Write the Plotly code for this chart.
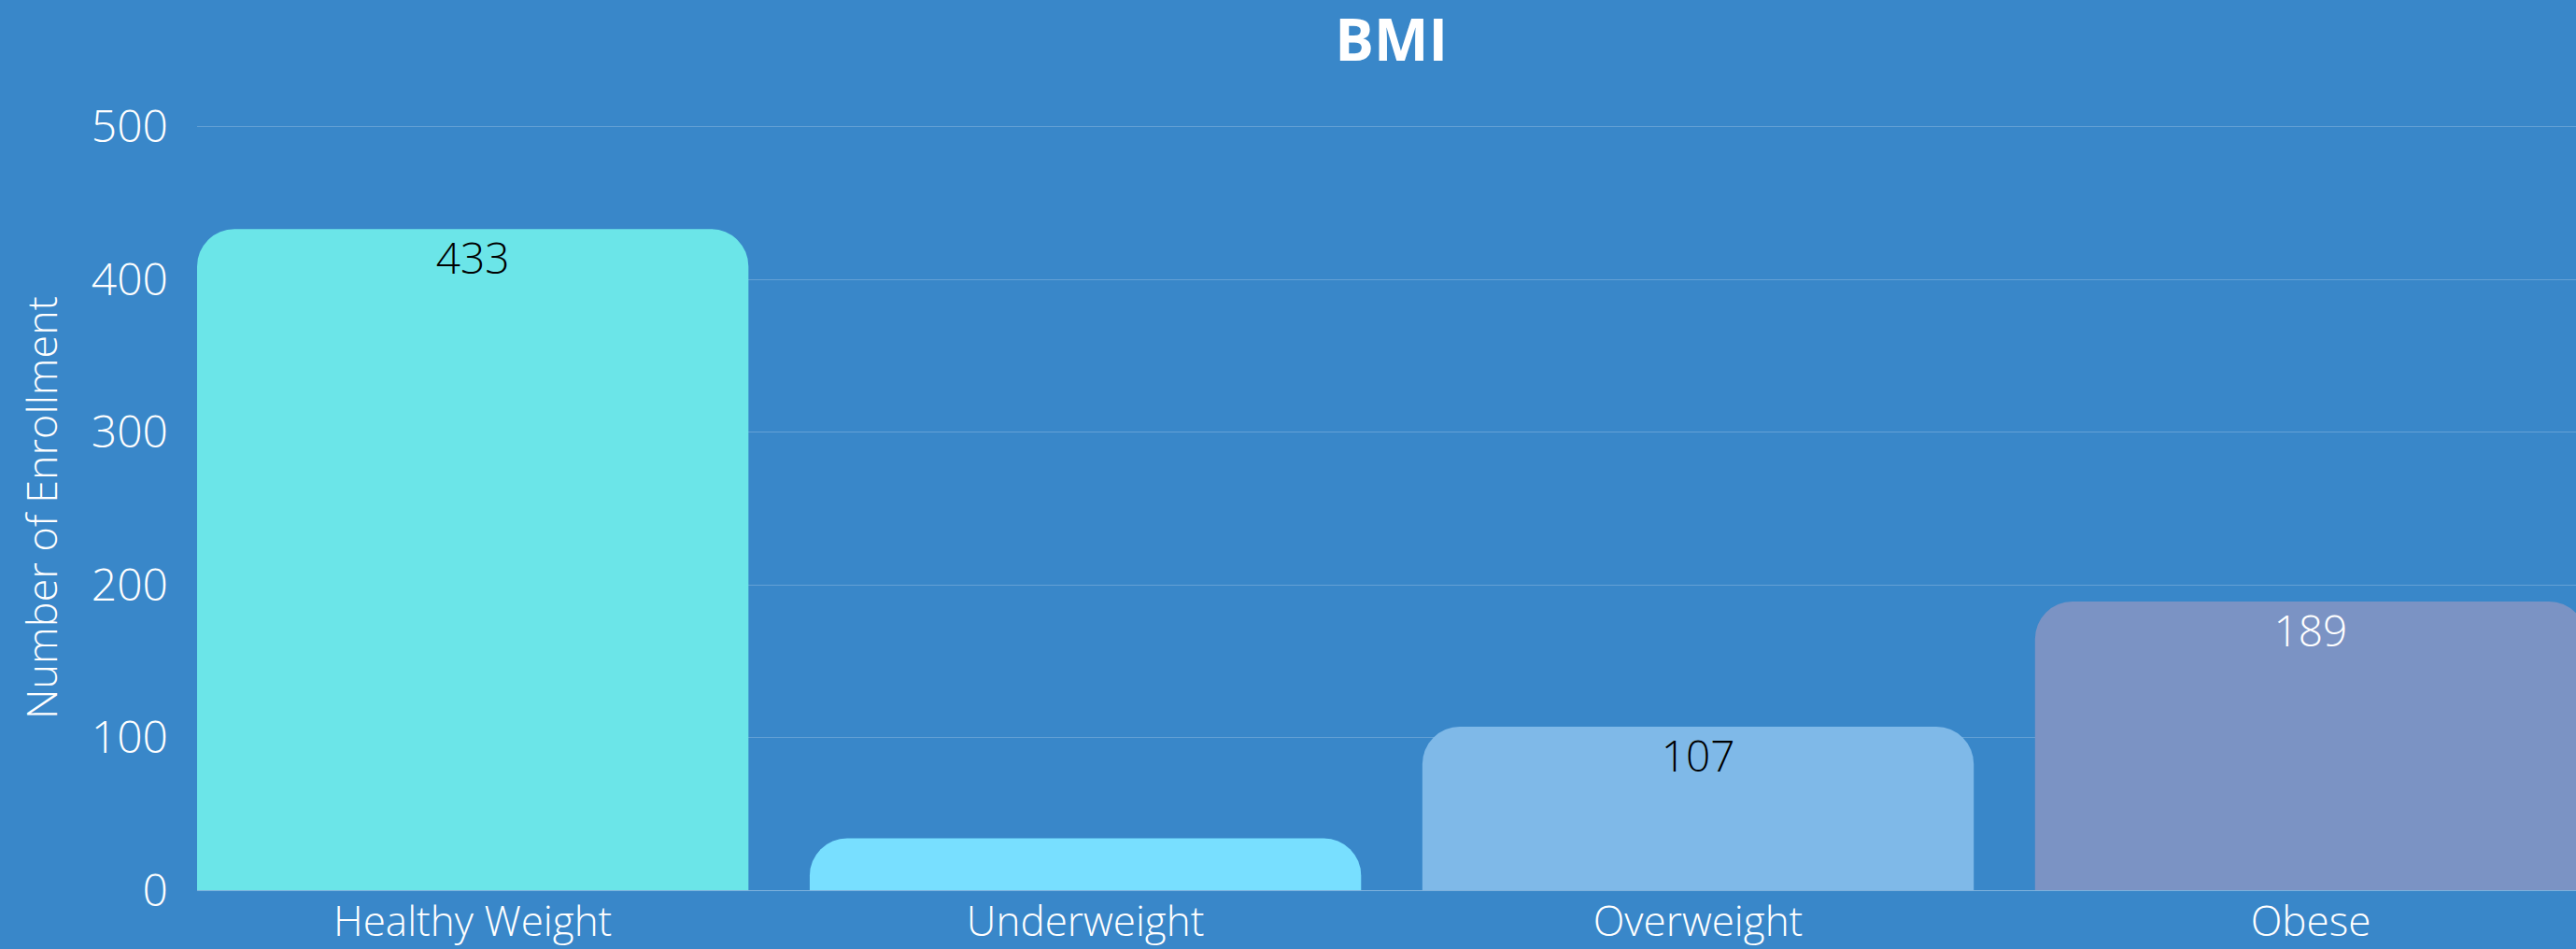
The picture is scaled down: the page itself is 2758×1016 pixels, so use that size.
import plotly.graph_objects as go

categories = ["Healthy Weight", "Underweight", "Overweight", "Obese"]
enrollment = [433, 34, 107, 189]
bar_colors = ["#6BE5E8", "#78DFFF", "#7FB9E8", "#7B93C4"]
label_colors = ["#000000", "#000000", "#000000", "#FFFFFF"]
y_ticks = [0, 100, 200, 300, 400, 500]

FONT = "Open Sans"
BG = "#3987C9"

labels = [str(v) if v >= 50 else "" for v in enrollment]

fig = go.Figure()
fig.add_trace(
    go.Bar(
        x=categories,
        y=enrollment,
        marker=dict(color=bar_colors, cornerradius=40, line=dict(width=0)),
        hoverinfo="x+y",
    )
)
fig.add_trace(
    go.Scatter(
        x=categories,
        y=enrollment,
        mode="markers+text",
        marker=dict(size=20, color="rgba(0,0,0,0)", line=dict(width=0)),
        text=labels,
        textposition="bottom center",
        textfont=dict(color=label_colors, size=46, family=FONT, weight=300),
        hoverinfo="skip",
        cliponaxis=False,
    )
)

fig.update_layout(
    width=2758,
    height=1016,
    paper_bgcolor=BG,
    plot_bgcolor=BG,
    margin=dict(l=211, r=0, t=134, b=63),
    bargap=0.1,
    showlegend=False,
    font=dict(family=FONT, color="white", size=44),
    title=dict(
        text="<b>BMI</b>",
        x=0.502,
        xref="paper",
        xanchor="center",
        y=0.957,
        yref="container",
        yanchor="middle",
        font=dict(size=62, color="white", family=FONT),
    ),
)

fig.update_xaxes(
    range=[-0.45, 3.433],
    showgrid=False,
    zeroline=False,
    showline=False,
    ticks="",
    automargin=False,
    tickfont=dict(size=44, color="white", family=FONT, weight=300),
    ticklabelstandoff=4,
)

fig.update_yaxes(
    range=[0, 501],
    tickvals=y_ticks,
    showgrid=True,
    gridcolor="rgba(255,255,255,0.22)",
    gridwidth=1,
    zeroline=True,
    zerolinecolor="rgba(255,255,255,0.35)",
    zerolinewidth=1,
    showline=False,
    tickfont=dict(size=48, color="white", family=FONT, weight=300),
    ticklabelstandoff=30,
    title=dict(text="Number of Enrollment", font=dict(size=45, color="white", family=FONT, weight=300), standoff=22),
)

fig.write_html(
    "out.html",
    config={"displayModeBar": False},
    post_script="document.body.style.margin='0';document.body.style.background='#3987C9';",
)
